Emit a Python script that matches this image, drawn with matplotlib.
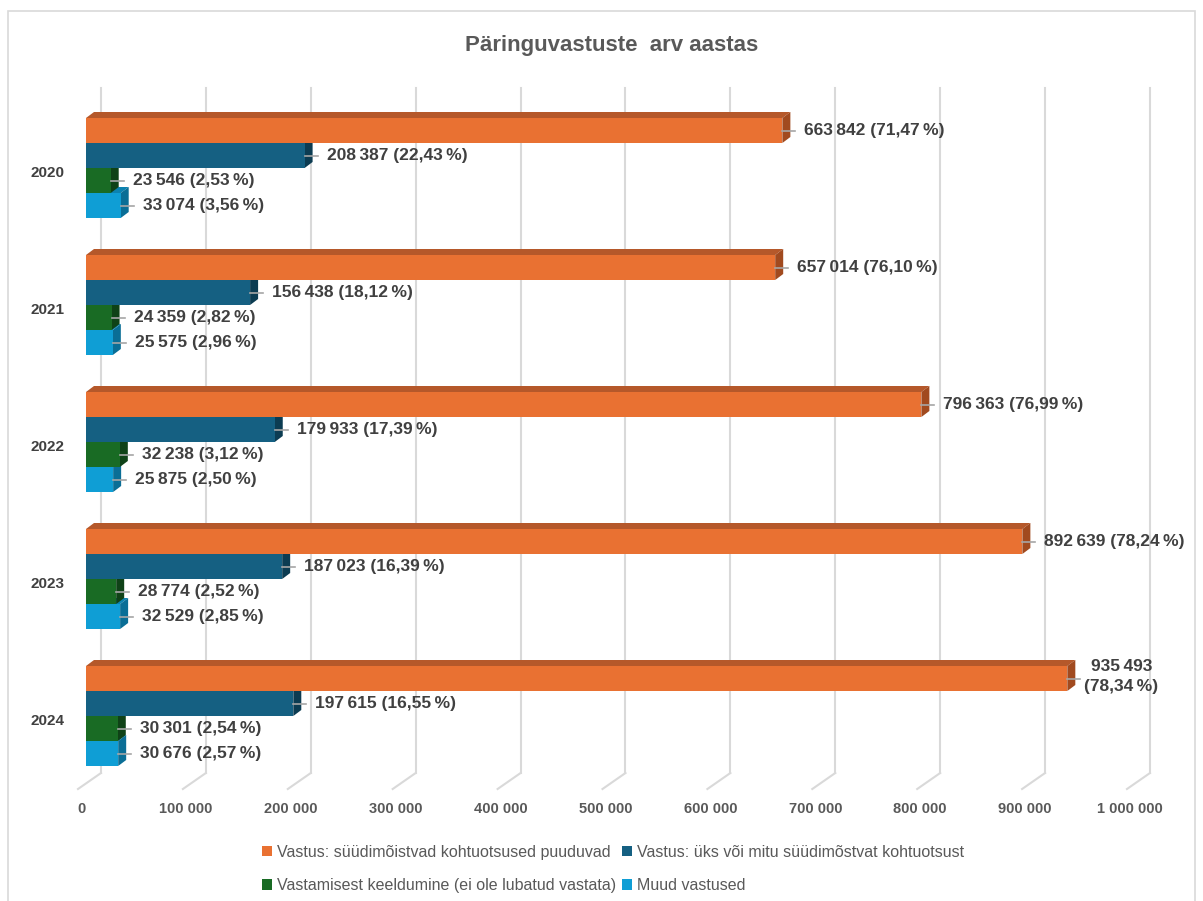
import matplotlib.pyplot as plt
from matplotlib.patches import Polygon, Patch, Rectangle

# data
years = ['2020', '2021', '2022', '2023', '2024']
no_convictions = [663842, 657014, 796363, 892639, 935493]
convictions = [208387, 156438, 179933, 187023, 197615]
refused = [23546, 24359, 32238, 28774, 30301]
other = [33074, 25575, 25875, 32529, 30676]
series_names = ['Vastus: süüdimõistvad kohtuotsused puuduvad',
                'Vastus: üks või mitu süüdimõstvat kohtuotsust',
                'Vastamisest keeldumine (ei ole lubatud vastata)',
                'Muud vastused']
ticks = [0, 100000, 200000, 300000, 400000, 500000, 600000, 700000, 800000, 900000, 1000000]
tick_labels = ['0', '100 000', '200 000', '300 000', '400 000', '500 000',
               '600 000', '700 000', '800 000', '900 000', '1 000 000']

front = ['#E97132', '#156082', '#196B24', '#0F9ED5']
side = ['#A14A1F', '#0C3C52', '#0F4217', '#0A6E96']
top = ['#B5582A', '#0F4A66', '#13521B', '#0C82B0']

SP = '\u2009'
LABEL_FONT = ['Liberation Sans', 'DejaVu Sans']


def fmt(v, total):
    s = f'{v:,}'.replace(',', SP)
    p = f'{100 * v / total:.2f}'.replace('.', ',')
    return f'{s} ({p}{SP}%)'


# pixel helpers (figure is 1203 x 901 px, axes fill it)
PX = 953.3      # value units per pixel
ROW = 137.0     # pixels per category

fig = plt.figure(figsize=(12.03, 9.01), dpi=100)
ax = fig.add_axes([0, 0, 1, 1])
ax.set_xlim(-86 * PX, (1203 - 86) * PX)
ax.set_ylim((901 - 172) / ROW, -172 / ROW)
ax.axis('off')

# outer border
fig.patches.append(Rectangle((8 / 1203, -0.05), 1187 / 1203, 1.05 - 11 / 901,
                             transform=fig.transFigure, fill=False,
                             edgecolor='#D9D9D9', lw=1.2))

# back wall gridlines with floor diagonals
g_top, g_bot, g_front = -84 / ROW, 601 / ROW, 617 / ROW
for t, lab in zip(ticks, tick_labels):
    ax.plot([t + 15 * PX, t + 15 * PX], [g_top, g_bot], color='#D9D9D9', lw=1.5, zorder=1)
    ax.plot([t + 15 * PX, t - 8 * PX], [g_bot, g_front], color='#D9D9D9', lw=1.5, zorder=1)
    ax.text(t - 5 * PX, 637 / ROW, lab, ha='center', va='center', fontsize=10.5,
            fontweight='bold', color='#595959', family=LABEL_FONT)

# bars
h = 25 / ROW
ddx, ddy = 8 * PX, 6 / ROW
series = [no_convictions, convictions, refused, other]
totals = [sum(s[i] for s in series) for i in range(len(years))]

for i, yr in enumerate(years):
    ax.text(-39 * PX, i + 1 / ROW, yr, ha='center', va='center', fontsize=11,
            fontweight='bold', color='#404040', family=LABEL_FONT)
    for k in [3, 2, 1, 0]:
        v = series[k][i]
        y0 = i - 4 / ROW - 2 * h + k * h
        y1 = y0 + h
        z = 3 + (3 - k)
        ax.add_patch(Polygon([(0, y0), (ddx, y0 - ddy), (v + ddx, y0 - ddy), (v, y0)],
                             closed=True, facecolor=top[k], edgecolor='none', zorder=z))
        ax.add_patch(Polygon([(v, y0), (v + ddx, y0 - ddy), (v + ddx, y1 - ddy), (v, y1)],
                             closed=True, facecolor=side[k], edgecolor='none', zorder=z))
        ax.barh(y0 + h / 2, v, height=h, color=front[k], zorder=z)
        yc = y0 + h / 2
        ax.plot([v, v + 13 * PX], [yc, yc], color='#A6A6A6', lw=1.2, zorder=20)
        txt = fmt(v, totals[i])
        if k == 0 and i == len(years) - 1:
            txt = txt.replace(' (', '\n(')
            ax.text(v + 54 * PX, yc - 2 / ROW, txt, ha='center', va='center',
                    fontsize=12.5, fontweight='bold', color='#404040',
                    family=LABEL_FONT, linespacing=1.45, zorder=21)
        else:
            ax.text(v + 22 * PX, yc, txt, ha='left', va='center', fontsize=12.5,
                    fontweight='bold', color='#404040', family=LABEL_FONT, zorder=21)

# title
fig.text(612 / 1203, 1 - 45 / 901, 'Päringuvastuste  arv aastas', ha='center', va='center',
         fontsize=16, fontweight='bold', color='#595959', family=LABEL_FONT)

# legend
order = [0, 2, 1, 3]
handles = [Patch(facecolor=front[k], edgecolor='none') for k in order]
fig.legend(handles, [series_names[k] for k in order], ncol=2, loc='center left',
           bbox_to_anchor=(248 / 1203, 1 - 869 / 901), frameon=False,
           handlelength=0.6, handleheight=0.6, handletextpad=0.3,
           columnspacing=0.4, labelspacing=1.15,
           prop={'family': LABEL_FONT, 'size': 11.5}, labelcolor='#595959')

fig.savefig('out.png', dpi=100)
